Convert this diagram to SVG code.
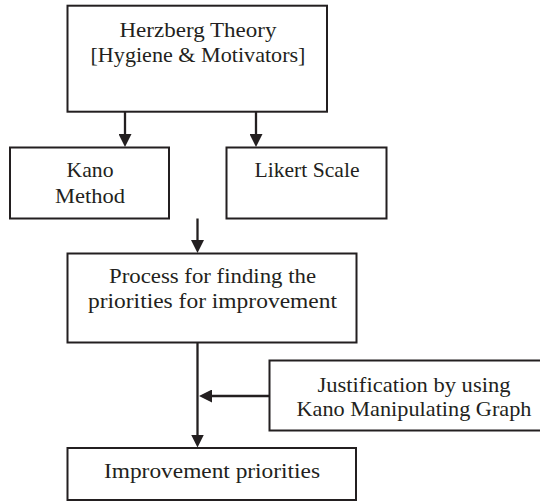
<svg xmlns="http://www.w3.org/2000/svg" width="540" height="502" viewBox="0 0 540 502">
<style>
.box{fill:#ffffff;stroke:#231f20;stroke-width:2}
.lbl{font-family:"Liberation Serif","Times New Roman",serif;font-size:22px;fill:#231f20;text-anchor:middle}
.con{stroke:#231f20;stroke-width:2.3;fill:none}
</style>
<defs>
<marker id="ah" viewBox="0 0 13 13" markerWidth="13" markerHeight="13" refX="1" refY="6.5" orient="auto" markerUnits="userSpaceOnUse">
<path d="M0,0 L13,6.5 L0,13 Z" fill="#231f20"/>
</marker>
</defs>
<rect width="540" height="502" fill="#ffffff"/>
<g id="herzberg">
<rect class="box" x="67.5" y="5.7" width="259.5" height="106"/>
<text class="lbl" x="198" y="36.7" textLength="157" lengthAdjust="spacingAndGlyphs">Herzberg Theory</text>
<text class="lbl" x="198" y="61.7" textLength="215" lengthAdjust="spacingAndGlyphs">[Hygiene &amp; Motivators]</text>
</g>
<g id="kano">
<rect class="box" x="10" y="147.5" width="159" height="71"/>
<text class="lbl" x="90" y="176.7" textLength="47" lengthAdjust="spacingAndGlyphs">Kano</text>
<text class="lbl" x="90" y="203.3" textLength="70" lengthAdjust="spacingAndGlyphs">Method</text>
</g>
<g id="likert">
<rect class="box" x="226.5" y="147.5" width="160" height="71"/>
<text class="lbl" x="307" y="176.7" textLength="105" lengthAdjust="spacingAndGlyphs">Likert Scale</text>
</g>
<g id="process">
<rect class="box" x="67.5" y="253.5" width="289" height="89"/>
<text class="lbl" x="212.5" y="283.3" textLength="207" lengthAdjust="spacingAndGlyphs">Process for finding the</text>
<text class="lbl" x="212.5" y="308.3" textLength="249" lengthAdjust="spacingAndGlyphs">priorities for improvement</text>
</g>
<g id="justification">
<rect class="box" x="269.5" y="360.5" width="280" height="70"/>
<text class="lbl" x="414" y="391.7" textLength="193" lengthAdjust="spacingAndGlyphs">Justification by using</text>
<text class="lbl" x="414" y="416" textLength="235" lengthAdjust="spacingAndGlyphs">Kano Manipulating Graph</text>
</g>
<g id="improvement">
<rect class="box" x="67.5" y="448" width="288.5" height="52"/>
<text class="lbl" x="212" y="478.3" textLength="216" lengthAdjust="spacingAndGlyphs">Improvement priorities</text>
</g>
<g id="connectors">
<line class="con" x1="125" y1="111.7" x2="125" y2="135" marker-end="url(#ah)"/>
<line class="con" x1="256" y1="111.7" x2="256" y2="135" marker-end="url(#ah)"/>
<line class="con" x1="197.5" y1="218.5" x2="197.5" y2="241" marker-end="url(#ah)"/>
<line class="con" x1="197.5" y1="342.5" x2="197.5" y2="435.5" marker-end="url(#ah)"/>
<line class="con" x1="269.5" y1="396" x2="211" y2="396" marker-end="url(#ah)"/>
</g>
</svg>
